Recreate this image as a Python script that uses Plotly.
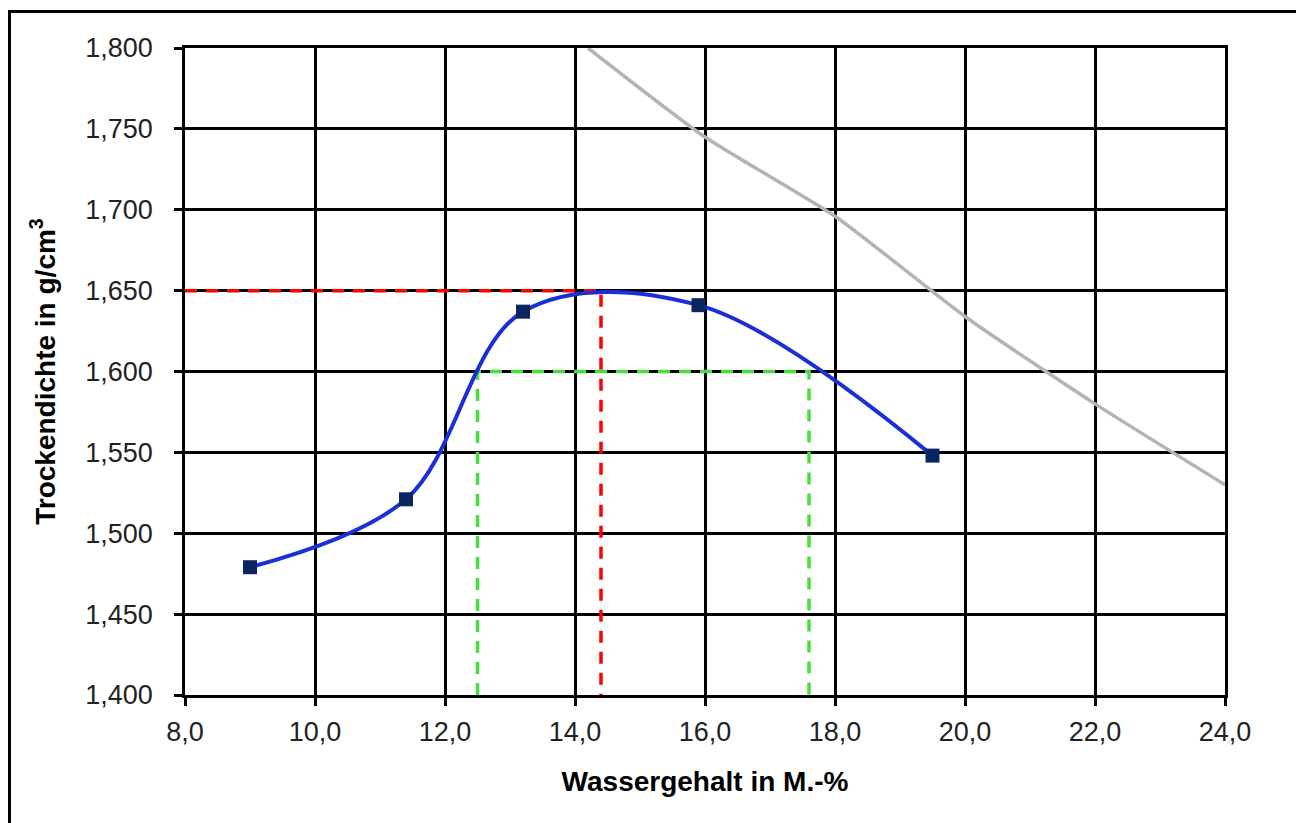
import plotly.graph_objects as go

# measured points (Proctor test)
water = [9.0, 11.4, 13.2, 15.9, 19.5]
density = [1.479, 1.521, 1.637, 1.641, 1.548]

# saturation line
sat_w = [14.2, 16.0, 18.0, 20.0, 22.0, 24.0]
sat_rho = [1.800, 1.745, 1.696, 1.634, 1.580, 1.530]

# Proctor optimum
opt_w = 14.4
opt_rho = 1.650

# 97% band
band_rho = 1.600
band_w_left = 12.5
band_w_right = 17.6

x_min, x_max = 8.0, 24.0
y_min, y_max = 1.400, 1.800

fig = go.Figure()

fig.add_trace(go.Scatter(x=sat_w, y=sat_rho, mode="lines",
                         line=dict(color="#b4b4b4", width=3.5, shape="spline", smoothing=0.6),
                         hoverinfo="skip", showlegend=False))

dash_red = dict(color="#ff0000", width=3.5, dash="12px,9px")
dash_green = dict(color="#44e03c", width=3.5, dash="12px,9px")

fig.add_trace(go.Scatter(x=[x_min, opt_w, opt_w], y=[opt_rho, opt_rho, y_min], mode="lines",
                         line=dash_red, showlegend=False))
fig.add_trace(go.Scatter(x=[band_w_left, band_w_left, band_w_right, band_w_right],
                         y=[y_min, band_rho, band_rho, y_min], mode="lines",
                         line=dash_green, showlegend=False))

fig.add_trace(go.Scatter(x=water, y=density, mode="lines",
                         line=dict(color="#1a30d6", width=4, shape="spline", smoothing=1.0),
                         showlegend=False))
fig.add_trace(go.Scatter(x=water, y=density, mode="markers",
                         marker=dict(symbol="square", size=14, color="#0b2560"),
                         showlegend=False))

# page body has an 8px margin; figure sized to fit the window
W, H = 1296, 815
L, R, T, B = 177, 79, 40, 128
pw, ph = W - L - R, H - T - B
fig.add_shape(type="rect", xref="paper", yref="paper",
              x0=(1.5 - L) / pw, x1=(W + 10 - L) / pw,
              y0=-(H + 10 - (T + ph)) / ph, y1=1 + (T - 3.5) / ph,
              line=dict(color="black", width=3), layer="above")

font_family = "Liberation Sans, Arial, sans-serif"
fig.update_layout(
    width=W, height=H,
    margin=dict(l=L, r=R, t=T, b=B),
    paper_bgcolor="white", plot_bgcolor="white",
    separators=",.",
    font=dict(family=font_family, size=27, color="#222222"),
    xaxis=dict(range=[x_min, x_max], dtick=2, tickformat=".1f",
               showgrid=True, gridcolor="black", gridwidth=2.5,
               showline=True, linecolor="black", linewidth=2.5, mirror=True,
               ticks="outside", ticklen=8, tickwidth=2.5, tickcolor="black",
               ticklabelstandoff=3,
               zeroline=False, fixedrange=True,
               title=dict(text="<b>Wassergehalt in M.-%</b>", font=dict(size=28, color="black"), standoff=26)),
    yaxis=dict(range=[y_min, y_max], dtick=0.05, tickformat=".3f",
               showgrid=True, gridcolor="black", gridwidth=2.5,
               showline=True, linecolor="black", linewidth=2.5, mirror=True,
               ticks="outside", ticklen=8, tickwidth=2.5, tickcolor="black",
               ticklabelstandoff=16,
               zeroline=False, fixedrange=True,
               title=dict(text="<b>Trockendichte in g/cm<sup>3</sup></b>", font=dict(size=28, color="black"), standoff=22)),
)

fig.write_html("out.html")
